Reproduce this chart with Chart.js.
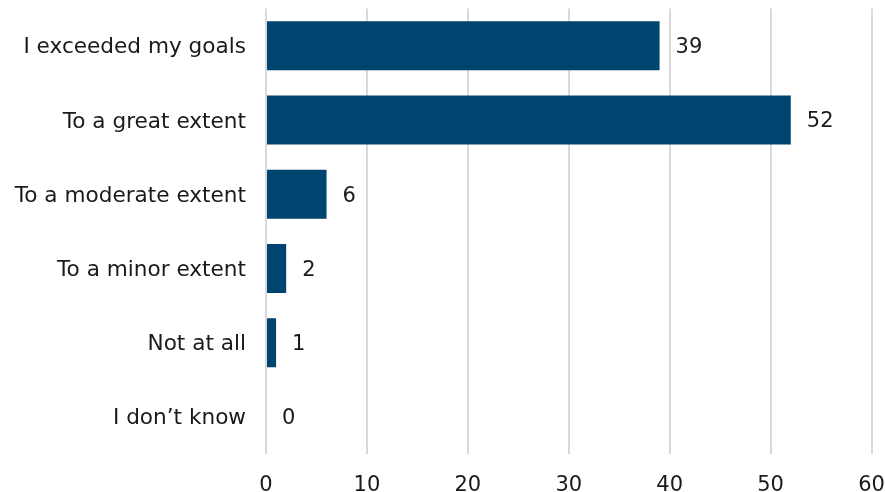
<!DOCTYPE html>
<html>
<head>
<meta charset="utf-8">
<script src="https://cdn.jsdelivr.net/npm/chart.js@4"></script>
<style>
  html, body { margin: 0; padding: 0; background: #ffffff; }
  #wrap { width: 885px; height: 492px; }
</style>
</head>
<body>
<div id="wrap"><canvas id="chart"></canvas></div>
<script>
// Responses per category
const categories = [
  "I exceeded my goals",
  "To a great extent",
  "To a moderate extent",
  "To a minor extent",
  "Not at all",
  "I don\u2019t know"
];
const counts = [39, 52, 6, 2, 1, 0];
const xTicks = [0, 10, 20, 30, 40, 50, 60];

const FONT = "'DejaVu Sans', Verdana, sans-serif";
const NUM_SIZE = 21;
const CAT_SIZE = 21.6;
const TEXT = "#1a1a1a";
const BAR = "#004470";

// Writes each bar's count just past its end
const valueLabels = {
  id: "valueLabels",
  afterDatasetsDraw(chart) {
    const ctx = chart.ctx;
    const meta = chart.getDatasetMeta(0);
    ctx.save();
    ctx.font = NUM_SIZE + "px " + FONT;
    ctx.fillStyle = TEXT;
    ctx.textAlign = "left";
    ctx.textBaseline = "middle";
    meta.data.forEach((bar, i) => {
      ctx.fillText(String(counts[i]), bar.x + 16, bar.y + 2);
    });
    ctx.restore();
  }
};

new Chart(document.getElementById("chart"), {
  type: "bar",
  data: {
    labels: categories,
    datasets: [{
      data: counts,
      backgroundColor: BAR,
      borderWidth: 0,
      categoryPercentage: 1,
      barPercentage: 0.66
    }]
  },
  options: {
    indexAxis: "y",
    responsive: true,
    maintainAspectRatio: false,
    animation: false,
    layout: { padding: { top: 8.6, right: 13.5, bottom: 0, left: 0 } },
    plugins: { legend: { display: false }, tooltip: { enabled: false } },
    scales: {
      x: {
        min: 0,
        max: 60,
        afterBuildTicks(scale) { scale.ticks = xTicks.map(v => ({ value: v })); },
        afterFit(scale) {
          scale.height = 38;
          scale.paddingLeft = 0;
          scale.paddingRight = 0;
        },
        grid: { color: "#d9d9d9", lineWidth: 2, drawTicks: false },
        border: { display: false },
        ticks: {
          color: TEXT,
          font: { family: FONT, size: NUM_SIZE },
          padding: 19
        }
      },
      y: {
        grid: { display: false, drawTicks: false },
        border: { display: false },
        afterFit(scale) {
          scale.width = 266;
          scale.paddingTop = 0;
          scale.paddingBottom = 0;
        },
        ticks: {
          color: TEXT,
          font: { family: FONT, size: CAT_SIZE },
          padding: 20,
          labelOffset: 2
        }
      }
    }
  },
  plugins: [valueLabels]
});
</script>
</body>
</html>
